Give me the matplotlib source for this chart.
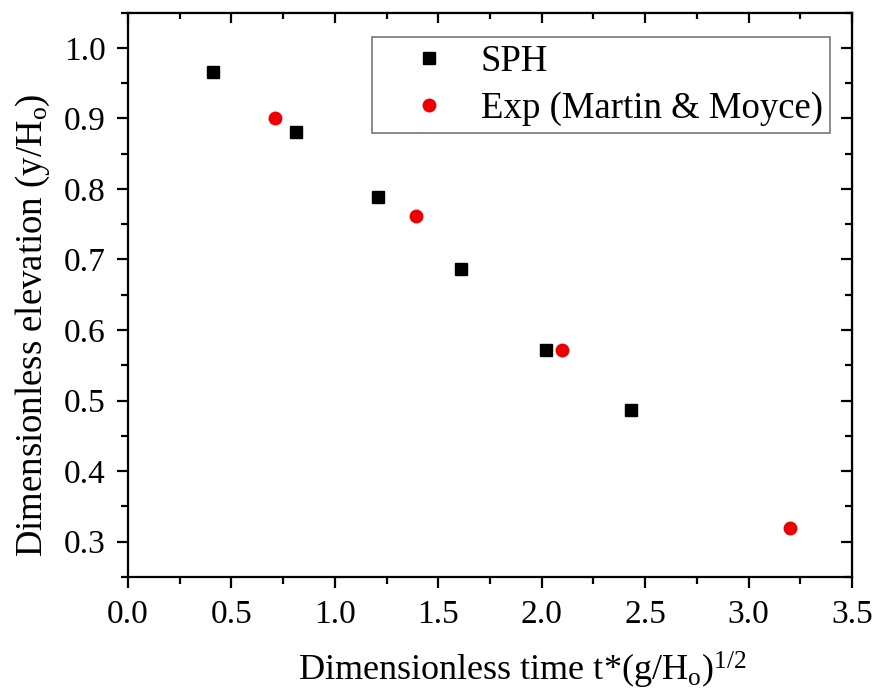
import matplotlib
matplotlib.use("Agg")
import matplotlib.pyplot as plt
from matplotlib.ticker import MultipleLocator

plt.rcParams['font.family'] = ['Liberation Serif', 'DejaVu Serif']
plt.rcParams['mathtext.fontset'] = 'custom'
plt.rcParams['mathtext.rm'] = 'Liberation Serif'
plt.rcParams['mathtext.it'] = 'Liberation Serif:italic'

sph_t = [0.41, 0.81, 1.21, 1.61, 2.02, 2.43]
sph_y = [0.965, 0.881, 0.789, 0.687, 0.571, 0.487]
exp_t = [0.71, 1.39, 2.10, 3.20]
exp_y = [0.901, 0.761, 0.571, 0.320]

fig = plt.figure(figsize=(8.77, 6.97), dpi=100)
ax = fig.add_axes([128/877, 1 - 577/697, (852-128)/877, (577-12.5)/697])

ax.plot(sph_t, sph_y, linestyle='none', marker='s', markersize=8, color='black', label='SPH')
ax.plot(exp_t, exp_y, linestyle='none', marker='o', markersize=9, color='#ee0000',
        markeredgecolor='#ee0000', label='Exp (Martin & Moyce)')

ax.set_xlim(0.0, 3.5)
ax.set_ylim(0.25, 1.05)
ax.xaxis.set_major_locator(MultipleLocator(0.5))
ax.xaxis.set_minor_locator(MultipleLocator(0.25))
ax.yaxis.set_major_locator(MultipleLocator(0.1))
ax.yaxis.set_minor_locator(MultipleLocator(0.05))
ax.xaxis.set_major_formatter(plt.FuncFormatter(lambda v, p: f"{v:.1f}"))
ax.yaxis.set_major_formatter(plt.FuncFormatter(lambda v, p: f"{v:.1f}"))

for s in ax.spines.values():
    s.set_linewidth(1.6)

ax.tick_params(axis='both', which='major', direction='out', length=8, width=1.6,
               labelsize=24)
ax.tick_params(axis='both', which='minor', direction='out', length=5, width=1.6)
ax.tick_params(axis='x', which='major', pad=8)
ax.tick_params(axis='y', which='major', pad=8)

axt = ax.secondary_xaxis('top')
axt.xaxis.set_major_locator(MultipleLocator(0.5))
axt.xaxis.set_minor_locator(MultipleLocator(0.25))
axt.tick_params(which='major', direction='in', length=8, width=1.6, labeltop=False)
axt.tick_params(which='minor', direction='in', length=5, width=1.6)
axr = ax.secondary_yaxis('right')
axr.yaxis.set_major_locator(MultipleLocator(0.1))
axr.yaxis.set_minor_locator(MultipleLocator(0.05))
axr.tick_params(which='major', direction='in', length=8, width=1.6, labelright=False)
axr.tick_params(which='minor', direction='in', length=5, width=1.6)

ax.set_xlabel(r"Dimensionless time t*(g/H$_\mathrm{o}$)$^{1/2}$", fontsize=26)
ax.set_ylabel(r"Dimensionless elevation (y/H$_\mathrm{o}$)", fontsize=26.5)
ax.xaxis.set_label_coords((522 - 128) / 724, (577 - 650) / 564.5)
ax.yaxis.set_label_coords((52 - 128) / 724, (577 - 325) / 564.5)

leg = ax.legend(loc='upper right', bbox_to_anchor=(830/877, 1 - 37/697),
                bbox_transform=fig.transFigure, prop={'size': 26.5}, frameon=True,
                fancybox=False, edgecolor='#555555', handletextpad=0.04,
                borderpad=0.2, labelspacing=0.34, handlelength=2.7, borderaxespad=0)
leg.get_frame().set_linewidth(1.2)

fig.savefig('out.png', dpi=100)
